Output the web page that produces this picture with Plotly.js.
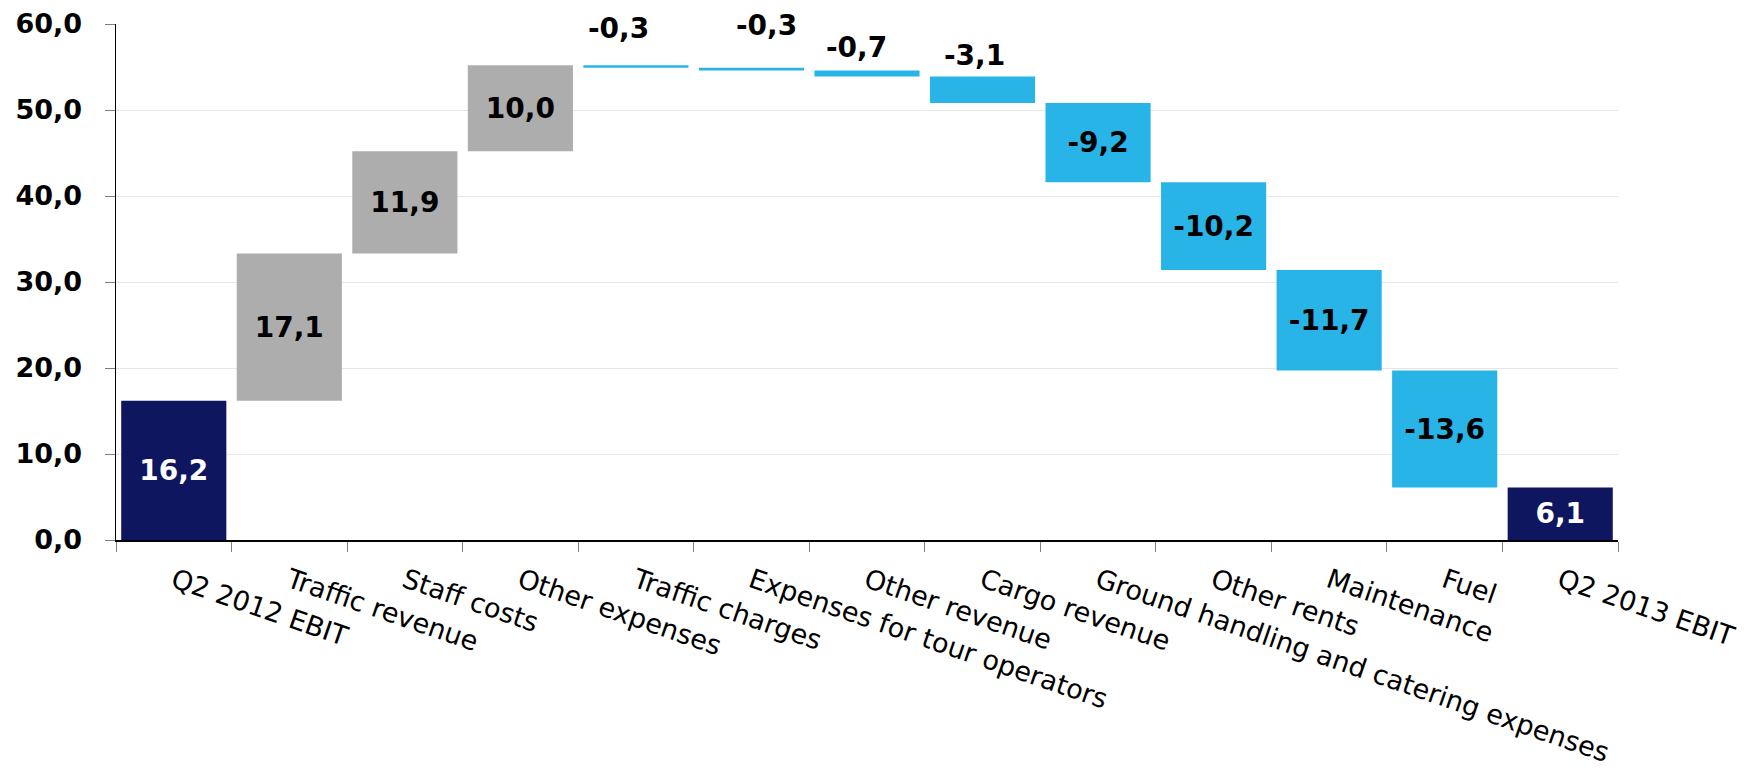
<!DOCTYPE html>
<html>
<head>
<meta charset="utf-8">
<script src="https://cdn.plot.ly/plotly-3.0.1.min.js"></script>
<style>
  html, body { margin: 0; padding: 0; background: #ffffff; }
  #chart { width: 1760px; height: 774px; }
</style>
</head>
<body>
<div id="chart"></div>
<script>
// EBIT bridge, Q2 2012 -> Q2 2013 (EUR m)
const categories = [
  'Q2 2012 EBIT', 'Traffic revenue', 'Staff costs', 'Other expenses',
  'Traffic charges', 'Expenses for tour operators', 'Other revenue',
  'Cargo revenue', 'Ground handling and catering expenses', 'Other rents',
  'Maintenance', 'Fuel', 'Q2 2013 EBIT'
];
const values = [16.2, 17.1, 11.9, 10.0, -0.3, -0.3, -0.7, -3.1, -9.2, -10.2, -11.7, -13.6, 6.1];
const measures = [
  'absolute', 'relative', 'relative', 'relative', 'relative', 'relative', 'relative',
  'relative', 'relative', 'relative', 'relative', 'relative', 'total'
];
const yTicks = [0, 10, 20, 30, 40, 50, 60];

const COLORS = { up: '#ADADAD', down: '#29B4E8', total: '#0E1660' };
const FONT = 'DejaVu Sans, Verdana, sans-serif';

const fmt = v => v.toFixed(1).replace('.', ',');

// Thin steps get their value printed above the bar instead of inside it
const isThin = v => Math.abs(v) < 5;

const insideText = values.map((v, i) => (isThin(v) && measures[i] === 'relative') ? '' : fmt(v));
const textColors = measures.map(m => (m === 'relative' ? '#000000' : '#FFFFFF'));

const trace = {
  type: 'waterfall',
  orientation: 'v',
  x: categories,
  y: values,
  measure: measures,
  text: insideText,
  textposition: 'inside',
  insidetextanchor: 'middle',
  constraintext: 'none',
  textfont: { family: FONT, size: 28, weight: 'bold', color: textColors },
  increasing: { marker: { color: COLORS.up } },
  decreasing: { marker: { color: COLORS.down } },
  totals: { marker: { color: COLORS.total } },
  connector: { visible: false },
  hoverinfo: 'skip'
};

// Labels sitting above the thin steps, nudged a little (px) so they don't collide
const nudge = {
  'Traffic charges': [-17, 37],
  'Expenses for tour operators': [15, 42],
  'Other revenue': [-11, 23],
  'Cargo revenue': [-8, 21]
};
const annotations = [];
let running = 0;
values.forEach((v, i) => {
  if (measures[i] === 'absolute') { running = v; return; }
  if (measures[i] === 'total') return;
  const start = running;
  running += v;
  if (isThin(v)) {
    const n = nudge[categories[i]] || [0, 24];
    annotations.push({
      x: categories[i], y: Math.max(start, running),
      xref: 'x', yref: 'y',
      text: fmt(v), showarrow: false,
      xanchor: 'center', yanchor: 'middle',
      xshift: n[0], yshift: n[1],
      font: { family: FONT, size: 28, weight: 'bold', color: '#000000' }
    });
  }
});

const layout = {
  width: 1760, height: 774,
  margin: { l: 116, r: 142, t: 24, b: 234 },
  paper_bgcolor: '#ffffff', plot_bgcolor: '#ffffff',
  separators: ',.',
  showlegend: false,
  waterfallgap: 0.09,
  xaxis: {
    type: 'category',
    tickangle: 19,
    tickson: 'boundaries',
    ticks: 'outside', ticklen: 10, tickcolor: '#808080', tickwidth: 1,
    showline: true, linecolor: '#000000', linewidth: 1.5,
    showgrid: false, zeroline: false,
    ticklabelstandoff: 13,
    tickfont: { family: FONT, size: 27, color: '#000000' },
    automargin: false
  },
  yaxis: {
    range: [0, 60],
    tickvals: yTicks,
    tickformat: '.1f',
    ticks: 'outside', ticklen: 10, tickcolor: '#808080', tickwidth: 1,
    showline: true, linecolor: '#000000', linewidth: 1.5,
    showgrid: true, gridcolor: '#E6E6E6', gridwidth: 1,
    zeroline: false,
    ticklabelstandoff: 17,
    tickfont: { family: FONT, size: 27, weight: 'bold', color: '#000000' },
    automargin: false
  },
  annotations: annotations
};

Plotly.newPlot('chart', [trace], layout, { displayModeBar: false, staticPlot: true });
</script>
</body>
</html>
